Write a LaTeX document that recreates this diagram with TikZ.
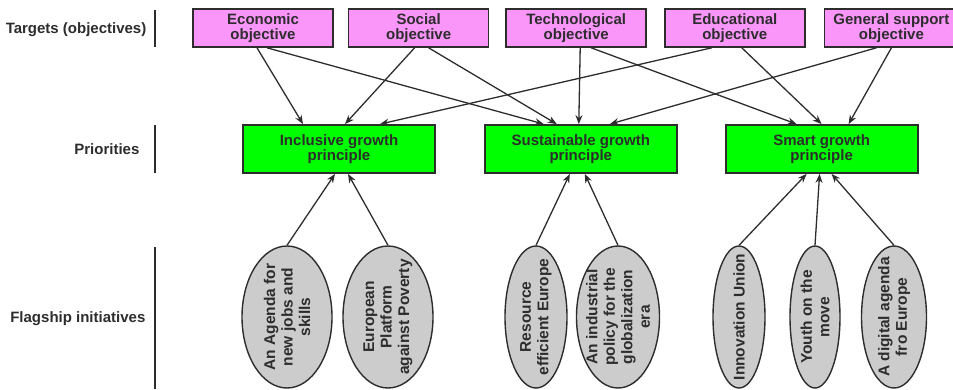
\documentclass[tikz,border=0pt]{standalone}
\usepackage{fontspec}
\setmainfont{Liberation Sans}
\usetikzlibrary{arrows.meta,shapes.geometric,positioning}
\definecolor{objpink}{RGB}{250,150,250}
\definecolor{prigreen}{RGB}{0,255,0}
\definecolor{flaggray}{RGB}{204,204,204}
\definecolor{ink}{RGB}{45,45,45}

\begin{document}
\begin{tikzpicture}[x=1pt,y=-1pt,>={Stealth[length=9pt,width=7pt]},line width=1.3pt,draw=ink,
                    node distance=15pt]
\tikzset{font=\fontsize{15pt}{15.5pt}\selectfont\bfseries}
\tikzset{target/.style={draw=ink,fill=objpink,line width=1.6pt,minimum width=140pt,
                        minimum height=38pt,inner sep=0pt,align=center,text=ink}}
\tikzset{priority/.style={draw=ink,fill=prigreen,line width=1.8pt,minimum width=192pt,
                          minimum height=48pt,inner sep=0pt,align=center,text=ink}}
\tikzset{flag/.style={ellipse,draw=ink,fill=flaggray,line width=1.4pt,
                      minimum height=142pt,inner sep=0pt}}
\tikzset{flagtext/.style={rotate=90,align=center,text=ink,inner sep=0pt,
                          font=\fontsize{15.5pt}{17.5pt}\selectfont\bfseries}}
\tikzset{layer/.style={anchor=east,text=ink,inner sep=0pt}}

  \useasboundingbox (0,0) rectangle (953,389);

        % layer names on the left
        \node[layer]   (lt)   at (147,30)  {Targets (objectives)};
        \node[layer]   (lp)   at (140,149) {Priorities};
        \node[layer]   (lf)   at (146,319) {Flagship initiatives};
        \coordinate (lt1) at (155,10);   \coordinate (lt2) at (155,47);
        \coordinate (lp1) at (155,125);  \coordinate (lp2) at (155,173);
        \coordinate (lf1) at (155,247);  \coordinate (lf2) at (155,389);
        \draw (lt1) -- (lt2);
        \draw (lp1) -- (lp2);
        \draw (lf1) -- (lf2);

        % targets
        \node[target]                          (eco)  at (263,28) {Economic\\objective};
        \node[target] [right=14pt of eco]      (soc)              {Social\\objective};
        \node[target] [right=16pt of soc]      (tech)             {Technological\\objective};
        \node[target] [right=17pt of tech]     (edu)              {Educational\\objective};
        \node[target,minimum width=134pt] [right=18pt of edu] (gen) {General support\\objective};

        % priorities
        \node[priority]                        (incl) at (339,149) {Inclusive growth\\principle};
        \node[priority] [right=48pt of incl]   (sust)              {Sustainable growth\\principle};
        \node[priority] [right=47pt of sust]   (smart)             {Smart growth\\principle};

        % flagship initiatives
        \node[flag,minimum width=90pt]  (agenda)     at (287,317) {};
        \node[flag,minimum width=90pt]  (platform)   at (388,317) {};
        \node[flag,minimum width=62pt]  (resource)   at (536,317) {};
        \node[flag,minimum width=83pt]  (industrial) at (618,317) {};
        \node[flag,minimum width=52pt]  (innov)      at (739,317) {};
        \node[flag,minimum width=50pt]  (youth)      at (815,317) {};
        \node[flag,minimum width=65pt]  (digital)    at (894,317) {};
        \node[flagtext] (tagenda)     at (agenda)     {An Agenda for\\new jobs and\\skills};
        \node[flagtext] (tplatform)   at (platform)   {European\\Platform\\against Poverty};
        \node[flagtext] (tresource)   at (resource)   {Resource\\efficient Europe};
        \node[flagtext] (tindustrial) at (industrial) {An industrial\\policy for the\\globalization\\era};
        \node[flagtext] (tinnov)      at (innov)      {Innovation Union};
        \node[flagtext] (tyouth)      at (youth)      {Youth on the\\move};
        \node[flagtext] (tdigital)    at (digital)    {A digital agenda\\fro Europe};

        \path[->]
        ([xshift=-6pt]eco.south)   edge ([xshift=-36pt]incl.north)
        ([xshift=4pt]eco.south)    edge ([xshift=-37pt]sust.north)
        ([xshift=-4pt]soc.south)   edge ([xshift=6pt]incl.north)
        ([xshift=10pt]soc.south)   edge ([xshift=-24pt]sust.north)
        ([xshift=4pt]tech.south)   edge ([xshift=-2pt]sust.north)
        ([xshift=15pt]tech.south)  edge ([xshift=-25pt]smart.north)
        ([xshift=-23pt]edu.south)  edge ([xshift=41pt]incl.north)
        ([xshift=7pt]edu.south)    edge (smart.north)
        ([xshift=-15pt]gen.south)  edge ([xshift=29pt]sust.north)
        (gen.south)                edge ([xshift=27pt]smart.north)
        ; %end path

        \path[->]
        (agenda.north)     edge ([xshift=-4pt]incl.south)
        (platform.north)   edge ([xshift=9pt]incl.south)
        (resource.north)   edge ([xshift=-11pt]sust.south)
        (industrial.north) edge ([xshift=4pt]sust.south)
        (innov.north)      edge ([xshift=-15pt]smart.south)
        (youth.north)      edge ([xshift=-2pt]smart.south)
        (digital.north)    edge ([xshift=10pt]smart.south)
        ; %end path

\end{tikzpicture}
\end{document}
